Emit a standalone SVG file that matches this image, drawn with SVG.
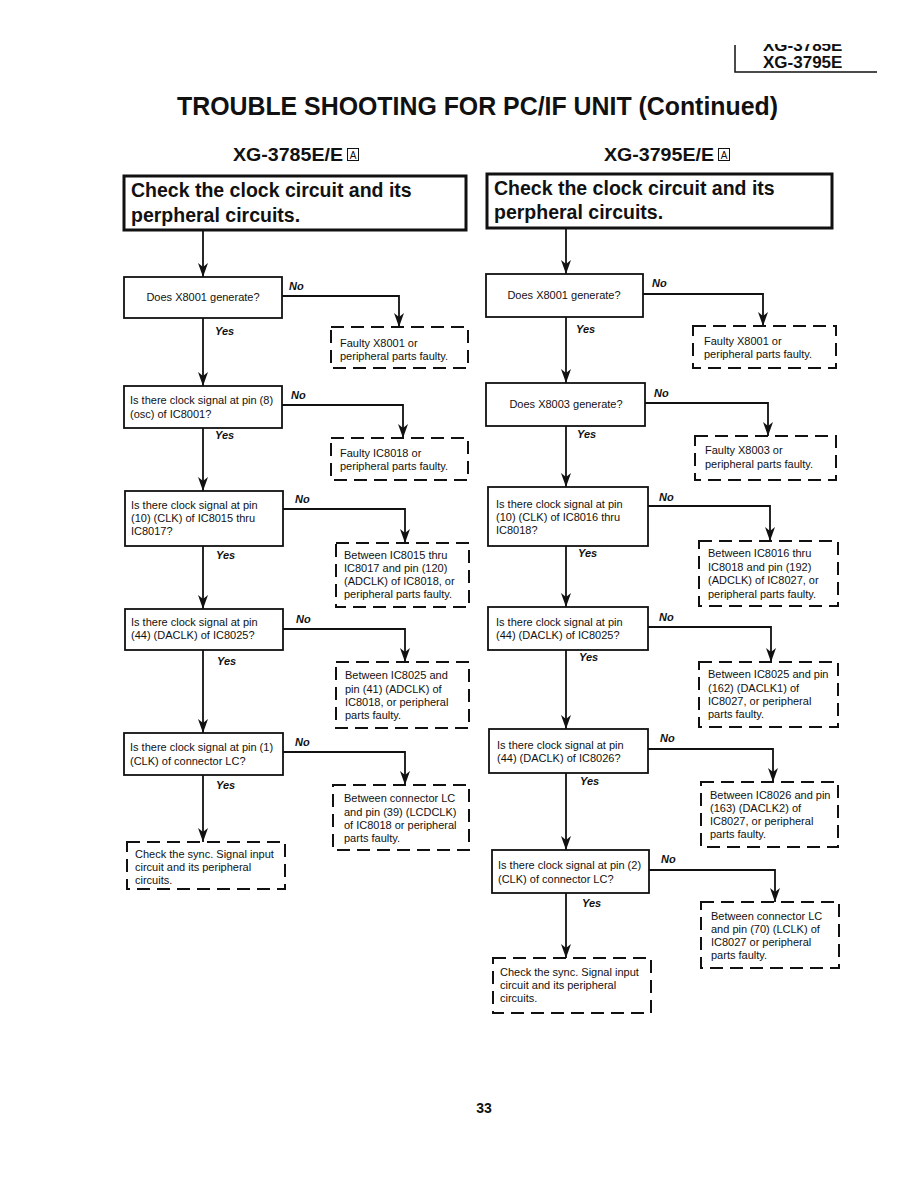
<svg xmlns="http://www.w3.org/2000/svg" width="918" height="1188" viewBox="0 0 918 1188">
<defs>
<style>
text{font-family:"Liberation Sans",Arial,sans-serif;fill:#111}
.t{font-size:11px}
.yn{font-size:11px;font-weight:bold;font-style:italic}
.big{font-size:19.5px;font-weight:bold}
.sub{font-size:18px;font-weight:bold}
.hd{font-size:17px;font-weight:bold}
.dec{fill:#fff;stroke:#111;stroke-width:1.8}
.top{fill:#fff;stroke:#111;stroke-width:3}
.res{fill:none;stroke:#111;stroke-width:2;stroke-dasharray:13 7}
.c{fill:none;stroke:#111;stroke-width:1.8}
</style>
<marker id="arr" viewBox="0 0 14 10" markerWidth="14" markerHeight="10" refX="14" refY="5" orient="auto" markerUnits="userSpaceOnUse">
<path d="M0,0 L14,5 L0,10 L4,5 Z" fill="#111"/>
</marker>
<clipPath id="hc"><rect x="700" y="44" width="200" height="9"/></clipPath>
</defs>
<rect width="918" height="1188" fill="#fff"/>

<g id="header">
<text x="763" y="51" class="hd" clip-path="url(#hc)">XG-3785E</text>
<text x="763" y="68" class="hd">XG-3795E</text>
<path d="M735,45 V72 H877" fill="none" stroke="#111" stroke-width="1.5"/>
</g>

<g id="title">
<text x="177" y="115" style="font-size:26px;font-weight:bold" textLength="601" lengthAdjust="spacingAndGlyphs">TROUBLE SHOOTING FOR PC/IF UNIT (Continued)</text>
</g>

<g id="subtitle-left">
<text x="233" y="161" class="sub" textLength="110" lengthAdjust="spacingAndGlyphs">XG-3785E/E</text>
<rect x="347.5" y="148.5" width="11" height="12" fill="none" stroke="#111" stroke-width="1"/>
<text x="353" y="158.5" style="font-size:10px" text-anchor="middle">A</text>
</g>
<g id="subtitle-right">
<text x="604" y="161" class="sub" textLength="110" lengthAdjust="spacingAndGlyphs">XG-3795E/E</text>
<rect x="718.5" y="148.5" width="11" height="12" fill="none" stroke="#111" stroke-width="1"/>
<text x="724" y="158.5" style="font-size:10px" text-anchor="middle">A</text>
</g>

<g id="connectors">
<path class="c" marker-end="url(#arr)" d="M203,231 V277"/>
<path class="c" marker-end="url(#arr)" d="M282,296 H399 V327"/>
<path class="c" marker-end="url(#arr)" d="M203,318 V386"/>
<path class="c" marker-end="url(#arr)" d="M282,405 H403 V438"/>
<path class="c" marker-end="url(#arr)" d="M203,428 V491"/>
<path class="c" marker-end="url(#arr)" d="M283,509 H405 V543"/>
<path class="c" marker-end="url(#arr)" d="M203,546 V609"/>
<path class="c" marker-end="url(#arr)" d="M283,629 H405 V662"/>
<path class="c" marker-end="url(#arr)" d="M203,650 V733"/>
<path class="c" marker-end="url(#arr)" d="M283,752 H405 V785"/>
<path class="c" marker-end="url(#arr)" d="M203,775 V842"/>

<path class="c" marker-end="url(#arr)" d="M566,229 V274"/>
<path class="c" marker-end="url(#arr)" d="M643,294 H763 V326"/>
<path class="c" marker-end="url(#arr)" d="M566,317 V383"/>
<path class="c" marker-end="url(#arr)" d="M645,403 H768 V436"/>
<path class="c" marker-end="url(#arr)" d="M566,426 V487"/>
<path class="c" marker-end="url(#arr)" d="M648,506 H770 V541"/>
<path class="c" marker-end="url(#arr)" d="M566,546 V607"/>
<path class="c" marker-end="url(#arr)" d="M648,627 H771 V662"/>
<path class="c" marker-end="url(#arr)" d="M566,650 V729"/>
<path class="c" marker-end="url(#arr)" d="M648,749 H773 V782"/>
<path class="c" marker-end="url(#arr)" d="M566,773 V850"/>
<path class="c" marker-end="url(#arr)" d="M649,870 H775 V902"/>
<path class="c" marker-end="url(#arr)" d="M566,893 V958"/>
</g>

<g id="labels">
<text x="289" y="290" class="yn">No</text>
<text x="215" y="335" class="yn">Yes</text>
<text x="291" y="399" class="yn">No</text>
<text x="215" y="439" class="yn">Yes</text>
<text x="295" y="503" class="yn">No</text>
<text x="216" y="559" class="yn">Yes</text>
<text x="296" y="623" class="yn">No</text>
<text x="217" y="665" class="yn">Yes</text>
<text x="295" y="746" class="yn">No</text>
<text x="216" y="789" class="yn">Yes</text>

<text x="652" y="287" class="yn">No</text>
<text x="576" y="333" class="yn">Yes</text>
<text x="654" y="397" class="yn">No</text>
<text x="577" y="438" class="yn">Yes</text>
<text x="659" y="501" class="yn">No</text>
<text x="578" y="557" class="yn">Yes</text>
<text x="659" y="621" class="yn">No</text>
<text x="579" y="661" class="yn">Yes</text>
<text x="660" y="742" class="yn">No</text>
<text x="580" y="785" class="yn">Yes</text>
<text x="661" y="863" class="yn">No</text>
<text x="582" y="907" class="yn">Yes</text>
</g>

<!-- Left column -->
<g id="L0">
<rect class="top" x="124" y="176" width="342" height="54"/>
<text x="131" y="197" class="big">Check the clock circuit and its</text>
<text x="131" y="222" class="big">perpheral circuits.</text>
</g>
<g id="L1">
<rect class="dec" x="124" y="277" width="158" height="41"/>
<text x="203" y="301" class="t" text-anchor="middle">Does X8001 generate?</text>
</g>
<g id="L1r">
<rect class="res" x="331" y="327" width="137" height="41"/>
<text x="340" y="347" class="t">Faulty X8001 or</text>
<text x="340" y="360" class="t">peripheral parts faulty.</text>
</g>
<g id="L2">
<rect class="dec" x="124" y="386" width="158" height="42"/>
<text x="130" y="404" class="t">Is there clock signal at pin (8)</text>
<text x="130" y="418" class="t">(osc) of IC8001?</text>
</g>
<g id="L2r">
<rect class="res" x="331" y="438" width="137" height="42"/>
<text x="340" y="457" class="t">Faulty IC8018 or</text>
<text x="340" y="470" class="t">peripheral parts faulty.</text>
</g>
<g id="L3">
<rect class="dec" x="125" y="491" width="158" height="55"/>
<text x="131" y="509" class="t">Is there clock signal at pin</text>
<text x="131" y="522" class="t">(10) (CLK) of IC8015 thru</text>
<text x="131" y="535" class="t">IC8017?</text>
</g>
<g id="L3r">
<rect class="res" x="336" y="543" width="133" height="64"/>
<text x="344" y="559" class="t">Between IC8015 thru</text>
<text x="344" y="572" class="t">IC8017 and pin (120)</text>
<text x="344" y="585" class="t">(ADCLK) of IC8018, or</text>
<text x="344" y="598" class="t">peripheral parts faulty.</text>
</g>
<g id="L4">
<rect class="dec" x="125" y="609" width="158" height="41"/>
<text x="131" y="626" class="t">Is there clock signal at pin</text>
<text x="131" y="639" class="t">(44) (DACLK) of IC8025?</text>
</g>
<g id="L4r">
<rect class="res" x="336" y="662" width="133" height="66"/>
<text x="345" y="679" class="t">Between IC8025 and</text>
<text x="345" y="693" class="t">pin (41) (ADCLK) of</text>
<text x="345" y="706" class="t">IC8018, or peripheral</text>
<text x="345" y="719" class="t">parts faulty.</text>
</g>
<g id="L5">
<rect class="dec" x="124" y="733" width="159" height="42"/>
<text x="130" y="751" class="t">Is there clock signal at pin (1)</text>
<text x="130" y="765" class="t">(CLK) of connector LC?</text>
</g>
<g id="L5r">
<rect class="res" x="333" y="785" width="136" height="65"/>
<text x="344" y="802" class="t">Between connector LC</text>
<text x="344" y="816" class="t">and pin (39) (LCDCLK)</text>
<text x="344" y="829" class="t">of IC8018 or peripheral</text>
<text x="344" y="842" class="t">parts faulty.</text>
</g>
<g id="L6">
<rect class="res" x="127" y="842" width="158" height="47"/>
<text x="135" y="858" class="t">Check the sync.  Signal input</text>
<text x="135" y="871" class="t">circuit and its peripheral</text>
<text x="135" y="884" class="t">circuits.</text>
</g>

<!-- Right column -->
<g id="R0">
<rect class="top" x="487" y="174" width="345" height="54"/>
<text x="494" y="195" class="big">Check the clock circuit and its</text>
<text x="494" y="219" class="big">perpheral circuits.</text>
</g>
<g id="R1">
<rect class="dec" x="486" y="274" width="157" height="43"/>
<text x="564" y="299" class="t" text-anchor="middle">Does X8001 generate?</text>
</g>
<g id="R1r">
<rect class="res" x="693" y="326" width="143" height="42"/>
<text x="704" y="345" class="t">Faulty X8001 or</text>
<text x="704" y="358" class="t">peripheral parts faulty.</text>
</g>
<g id="R2">
<rect class="dec" x="486" y="383" width="159" height="43"/>
<text x="566" y="408" class="t" text-anchor="middle">Does X8003 generate?</text>
</g>
<g id="R2r">
<rect class="res" x="695" y="436" width="141" height="44"/>
<text x="705" y="454" class="t">Faulty X8003 or</text>
<text x="705" y="468" class="t">peripheral parts faulty.</text>
</g>
<g id="R3">
<rect class="dec" x="488" y="487" width="160" height="59"/>
<text x="496" y="508" class="t">Is there clock signal at pin</text>
<text x="496" y="521" class="t">(10) (CLK) of IC8016 thru</text>
<text x="496" y="534" class="t">IC8018?</text>
</g>
<g id="R3r">
<rect class="res" x="699" y="541" width="139" height="65"/>
<text x="708" y="557" class="t">Between IC8016 thru</text>
<text x="708" y="571" class="t">IC8018 and pin (192)</text>
<text x="708" y="584" class="t">(ADCLK) of IC8027, or</text>
<text x="708" y="598" class="t">peripheral parts faulty.</text>
</g>
<g id="R4">
<rect class="dec" x="488" y="607" width="160" height="43"/>
<text x="496" y="626" class="t">Is there clock signal at pin</text>
<text x="496" y="639" class="t">(44) (DACLK) of IC8025?</text>
</g>
<g id="R4r">
<rect class="res" x="699" y="662" width="139" height="65"/>
<text x="708" y="678" class="t">Between IC8025 and pin</text>
<text x="708" y="692" class="t">(162) (DACLK1) of</text>
<text x="708" y="705" class="t">IC8027, or peripheral</text>
<text x="708" y="718" class="t">parts faulty.</text>
</g>
<g id="R5">
<rect class="dec" x="489" y="729" width="159" height="44"/>
<text x="497" y="749" class="t">Is there clock signal at pin</text>
<text x="497" y="762" class="t">(44) (DACLK) of IC8026?</text>
</g>
<g id="R5r">
<rect class="res" x="701" y="782" width="137" height="65"/>
<text x="710" y="799" class="t">Between IC8026 and pin</text>
<text x="710" y="812" class="t">(163) (DACLK2) of</text>
<text x="710" y="825" class="t">IC8027, or peripheral</text>
<text x="710" y="838" class="t">parts faulty.</text>
</g>
<g id="R6">
<rect class="dec" x="492" y="850" width="157" height="43"/>
<text x="498" y="869" class="t">Is there clock signal at pin (2)</text>
<text x="498" y="883" class="t">(CLK) of connector LC?</text>
</g>
<g id="R6r">
<rect class="res" x="701" y="902" width="138" height="66"/>
<text x="711" y="920" class="t">Between connector LC</text>
<text x="711" y="933" class="t">and pin (70) (LCLK) of</text>
<text x="711" y="946" class="t">IC8027 or peripheral</text>
<text x="711" y="959" class="t">parts faulty.</text>
</g>
<g id="R7">
<rect class="res" x="493" y="958" width="158" height="55"/>
<text x="500" y="976" class="t">Check the sync.  Signal input</text>
<text x="500" y="989" class="t">circuit and its peripheral</text>
<text x="500" y="1002" class="t">circuits.</text>
</g>

<g id="page">
<text x="484" y="1113" style="font-size:14px;font-weight:bold" text-anchor="middle">33</text>
</g>
</svg>
